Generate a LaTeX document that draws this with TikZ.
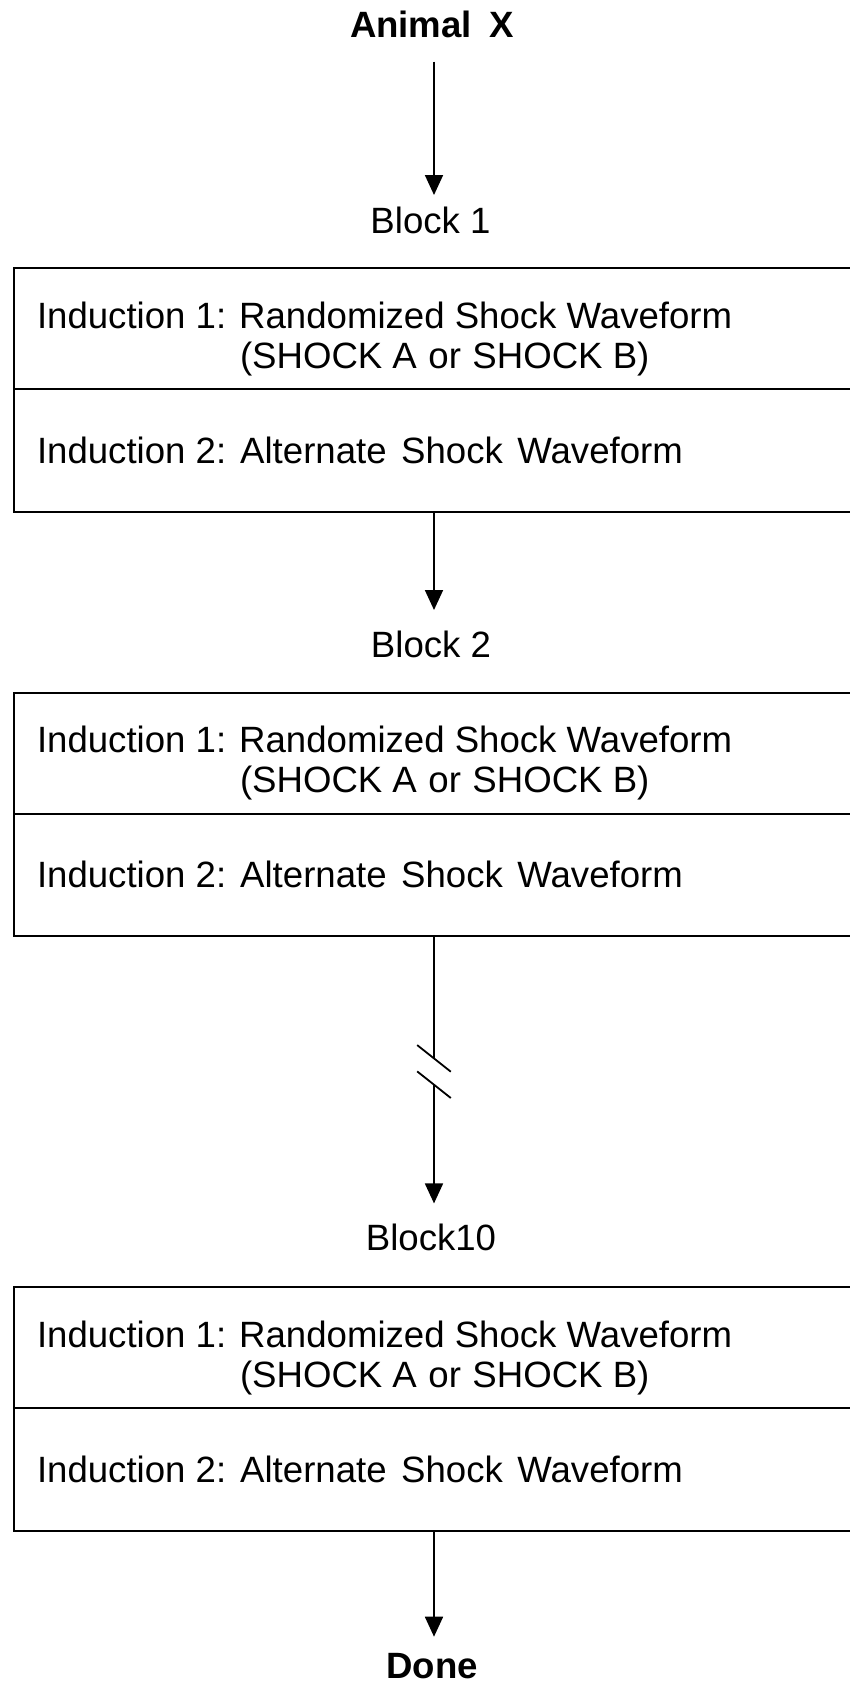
\documentclass[tikz,border=0pt]{standalone}
\usepackage{fontspec}
\setmainfont{Liberation Sans}
\usetikzlibrary{arrows.meta,calc}

\tikzset{
  lbl/.style={inner sep=0pt, outer sep=0pt, text height=26.3pt, text depth=0pt,
              font=\fontsize{36.6}{40}\selectfont},
  head/.style={lbl, font=\fontsize{36.6}{40}\selectfont\bfseries},
  txt/.style={lbl, anchor=base west},
  row/.style={draw, line width=1.8pt, minimum width=840pt, inner sep=0pt,
              outer sep=0pt, anchor=north west},
  flow/.style={line width=1.8pt, -{Triangle[length=20pt,width=18pt]}},
  brk/.style={line width=1.8pt},
}

\begin{document}
\begin{tikzpicture}[x=1pt,y=-1pt]
  \useasboundingbox[fill=white] (0,0) rectangle (849,1684);

  % vertical spine of the flow
  \coordinate (spine) at (434,0);

  % labels between the blocks
  \node[head, anchor=base] (animal) at (432,37)     {Animal\hspace{17.5pt}X};
  \node[lbl,  anchor=base] (blk1)   at (430.5,233.3) {Block 1};
  \node[lbl,  anchor=base] (blk2)   at (431,657.3)   {Block 2};
  \node[lbl,  anchor=base] (blk10)  at (431,1250.7)  {Block10};
  \node[head, anchor=base] (done)   at (432.3,1678.5) {Done};

  % the three two-row blocks
  \foreach \i/\dy in {1/0, 2/424.4, 3/1019}{
    \node[row, minimum height=121pt]   (b\i t) at (14,268.3+\dy) {};
    \node[row, minimum height=122.4pt] (b\i b) at (b\i t.south west) {};
    \node[txt] (b\i one) at (37,328.3+\dy)
      {Induction 1:\hspace{13pt}Randomized Shock Waveform};
    \node[txt] (b\i two) at (240,368.3+\dy)
      {(SHOCK A\hspace{11.5pt}or\hspace{11.5pt}SHOCK B)};
    \node[txt] (b\i three) at (37,463.3+\dy)
      {Induction 2:\hspace{14pt}Alternate\hspace{14.5pt}Shock\hspace{14.5pt}Waveform};
  }

  % connectors
  \draw[flow, shorten <=24.7pt, shorten >=12pt]
    (animal.south -| spine) -- (blk1.north -| spine);
  \draw[flow, shorten >=21pt] (b1b.south) -- (blk2.north -| b1b.south);

  % broken connector from block 2 to block 10
  \coordinate (brkA) at ($(b2b.south)+(0,122.3)$);
  \coordinate (brkB) at ($(b2b.south)+(0,148.6)$);
  \draw[brk] (b2b.south) -- (brkA);
  \draw[brk] ($(brkA)+(-16.8,-13.3)$) -- ($(brkA)+(16.8,13.3)$);
  \draw[brk] ($(brkB)+(-16.8,-13.3)$) -- ($(brkB)+(16.8,13.3)$);
  \draw[flow, shorten >=21pt] (brkB) -- (blk10.north -| brkB);

  \draw[flow, shorten >=15.5pt] (b3b.south) -- (done.north -| b3b.south);
\end{tikzpicture}
\end{document}
